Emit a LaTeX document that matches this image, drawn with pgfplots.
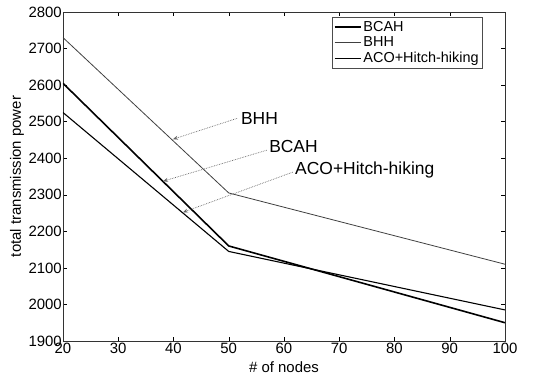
\documentclass[border=0pt]{standalone}
\usepackage{fontspec}
\setmainfont{Liberation Sans}
\usepackage{pgfplots}
\pgfplotsset{compat=1.18}
\usetikzlibrary{calc,arrows.meta}
\begin{document}
\begin{tikzpicture}
\begin{axis}[
  scale only axis, width=442bp, height=329bp,
  xmin=20, xmax=100, ymin=1900, ymax=2800,
  xtick={20,30,...,100}, ytick={1900,2000,...,2800},
  tick align=inside, major tick length=4bp,
  tick style={black, line width=0.4bp},
  axis line style={line width=0.6bp, black!80},
  /pgf/number format/assume math mode=true,
  /pgf/number format/set thousands separator={},
  ticklabel style={font=\fontsize{15}{15}\selectfont},
  xticklabel style={inner sep=0pt, anchor=north, yshift=-2bp},
  yticklabel style={inner sep=0pt, anchor=east, xshift=-1bp},
  xlabel={\# of nodes},
  ylabel={total transmission power},
  label style={font=\fontsize{15}{15}\selectfont},
  xlabel style={at={(axis description cs:0.5,0)}, anchor=center, yshift=-26bp},
  ylabel style={at={(axis description cs:0,0.5)}, anchor=center, rotate=0, yshift=46bp},
  legend style={at={(0.95,0.985)}, anchor=north east, draw=black!70,
    font=\fontsize{14.5}{18.5}\selectfont, inner sep=2bp, row sep=0bp},
  legend cell align=left,
  legend image code/.code={\draw[#1] (0bp,0bp) -- (26bp,0bp);},
]
\coordinate (O) at (rel axis cs:0,0);
\addplot[black, line width=1.6bp] coordinates {(20,2605) (50,2160) (100,1950)};
\addlegendentry{BCAH}
\addplot[black!75, line width=0.8bp] coordinates {(20,2730) (50,2305) (100,2110)};
\addlegendentry{BHH}
\addplot[black, line width=1.1bp] coordinates {(20,2525) (50,2145) (100,1985)};
\addlegendentry{ACO+Hitch-hiking}

\draw[black!60, densely dotted, line width=0.7bp, -{Stealth[length=5bp,width=4bp]}]
  (axis cs:51.5,2509) -- (axis cs:39.9,2452);
\draw[black!60, densely dotted, line width=0.7bp, -{Stealth[length=5bp,width=4bp]}]
  (axis cs:56.9,2422) -- (axis cs:38.1,2337);
\draw[black!60, densely dotted, line width=0.7bp, -{Stealth[length=5bp,width=4bp]}]
  (axis cs:61.6,2362) -- (axis cs:41.7,2252);
\node[anchor=west, inner sep=0pt, font=\fontsize{17.5}{17.5}\selectfont] at (axis cs:52.2,2510) {BHH};
\node[anchor=west, inner sep=0pt, font=\fontsize{17.5}{17.5}\selectfont] at (axis cs:57.3,2431) {BCAH};
\node[anchor=west, inner sep=0pt, font=\fontsize{17.5}{17.5}\selectfont] at (axis cs:62.0,2368) {ACO+Hitch-hiking};
\end{axis}
\pgfresetboundingbox
\path ($(O)+(-63bp,-35bp)$) rectangle ($(O)+(480bp,341bp)$);
\end{tikzpicture}
\end{document}
